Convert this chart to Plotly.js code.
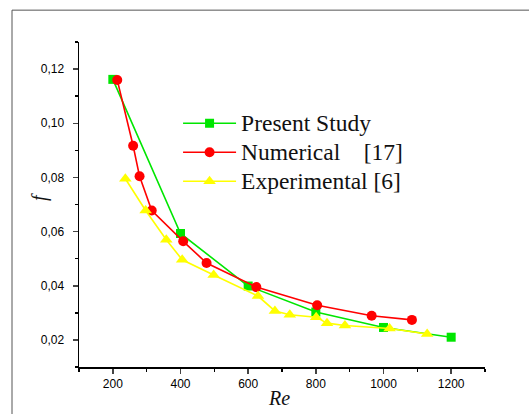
<!DOCTYPE html>
<html>
<head>
<meta charset="utf-8">
<script src="https://cdn.plot.ly/plotly-3.0.1.min.js"></script>
<style>html,body{margin:0;padding:0;background:#fff;}#chart{width:529px;height:414px;}</style>
</head>
<body>
<div id="chart"></div>
<script>
// Present Study
const presentRe = [200, 400, 600, 800, 1000, 1200];
const presentF  = [0.1162, 0.0593, 0.0399, 0.0303, 0.0246, 0.0210];
// Numerical [17]
const numericalRe = [213, 260, 279, 315, 408, 477, 624, 804, 965, 1084];
const numericalF  = [0.1160, 0.0917, 0.0804, 0.0678, 0.0564, 0.0484, 0.0395, 0.0328, 0.0289, 0.0274];
// Experimental [6]
const experimentalRe = [237, 297, 358, 405, 498, 629, 679, 723, 801, 833, 886, 1018, 1129];
const experimentalF  = [0.0795, 0.0678, 0.0570, 0.0496, 0.0440, 0.0362, 0.0307, 0.0293, 0.0284, 0.0262, 0.0253, 0.0242, 0.0222];

const seriesNames = ['Present Study', 'Numerical\u00a0\u00a0\u00a0\u00a0[17]', 'Experimental [6]'];
const yTickVals = [0.02, 0.04, 0.06, 0.08, 0.10, 0.12];
const xTickVals = [200, 400, 600, 800, 1000, 1200];
const xTitle = 'Re';
const yTitle = 'f';

const serif = '"Liberation Serif", "Times New Roman", serif';
const sans = '"Liberation Sans", Arial, sans-serif';
const big = s => '<span style="font-size:23.5px">' + s + '</span>';

const traces = [
  {x: presentRe, y: presentF, name: big(seriesNames[0]), mode: 'lines+markers',
   line: {color: '#00e600', width: 1.6}, marker: {symbol: 'square', size: 9, color: '#00e600'}},
  {x: numericalRe, y: numericalF, name: big(seriesNames[1]), mode: 'lines+markers',
   line: {color: '#ff0000', width: 1.6}, marker: {symbol: 'circle', size: 10, color: '#ff0000'}},
  {x: experimentalRe, y: experimentalF, name: big(seriesNames[2]), mode: 'lines+markers',
   line: {color: '#ffff00', width: 1.6}, marker: {symbol: 'triangle-up', size: 11, color: '#ffff00'}}
];

const layout = {
  width: 529, height: 414,
  margin: {l: 79, r: 44, t: 42, b: 47},
  paper_bgcolor: '#fff', plot_bgcolor: '#fff',
  separators: ',.',
  showlegend: true,
  legend: {x: 0.244, y: 0.81, xanchor: 'left', yanchor: 'top', bgcolor: 'rgba(0,0,0,0)',
           font: {family: serif, size: 20, color: '#111'}, itemwidth: 53, tracegroupgap: 0},
  xaxis: {range: [100, 1300], tickvals: xTickVals, ticks: 'outside', ticklen: 5, tickwidth: 1.5,
          showline: true, linecolor: '#000', linewidth: 1.5, showgrid: false, zeroline: false,
          tickfont: {family: sans, size: 12, color: '#000'},
          minor: {dtick: 100, tick0: 100, ticks: 'outside', ticklen: 3, tickwidth: 1.5, tickcolor: '#000', showgrid: false},
          title: {text: ''}},
  yaxis: {range: [0.01, 0.13], tickvals: yTickVals, tickformat: '.2f', ticks: 'outside', ticklen: 5, tickwidth: 1.5,
          showline: true, linecolor: '#000', linewidth: 1.5, showgrid: false, zeroline: false,
          tickfont: {family: sans, size: 12, color: '#000'}, ticklabelstandoff: 6,
          minor: {dtick: 0.01, tick0: 0.01, ticks: 'outside', ticklen: 3, tickwidth: 1.5, tickcolor: '#000', showgrid: false},
          title: {text: ''}},
  annotations: [
    {text: '<i>' + xTitle + '</i>', xref: 'paper', yref: 'paper', x: 0.4926, y: -0.095,
     xanchor: 'center', yanchor: 'middle', showarrow: false, font: {family: serif, size: 20, color: '#111'}},
    {text: '<i>' + yTitle + '</i>', xref: 'paper', yref: 'paper', x: -0.0985, y: 0.523, textangle: -90,
     xanchor: 'center', yanchor: 'middle', showarrow: false, font: {family: serif, size: 20, color: '#111'}}
  ],
  shapes: [
    {type: 'rect', xref: 'paper', yref: 'paper', x0: -0.165, x1: 1.5, y0: -0.5, y1: 1.098,
     line: {color: '#555', width: 1}, fillcolor: 'rgba(0,0,0,0)', layer: 'below'}
  ]
};

Plotly.newPlot('chart', traces, layout, {displayModeBar: false, staticPlot: true});
</script>
</body>
</html>
